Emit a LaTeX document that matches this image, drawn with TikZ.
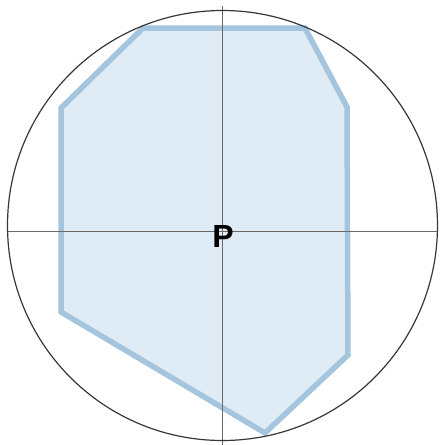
\documentclass[tikz,border=0pt]{standalone}
\usepackage{fontspec}
\setmainfont{Liberation Sans}
\usepackage{xcolor}
\usepackage{tikz}
\usetikzlibrary{positioning, calc}

\definecolor{polyedge}{RGB}{164,197,221}
\definecolor{polyfill}{RGB}{223,235,245}
\definecolor{ringline}{RGB}{55,55,55}
\definecolor{axisline}{RGB}{105,105,105}

\begin{document}
\begin{tikzpicture}[x=1pt, y=-1pt,
        region/.style={draw=polyedge, fill=polyfill, line width=5.5pt, line join=miter},
        ring/.style={draw=ringline, line width=1.2pt},
        axis/.style={draw=axisline, line width=1pt},
        pointlabel/.style={font=\fontsize{32}{32}\selectfont\bfseries, inner sep=0pt}
    ]
    \useasboundingbox (0,0) rectangle (440,445);

    % --- Centre and reference points ---
    \coordinate (centre) at (222.5,225.5);
    \coordinate (axleft) at (7.5,231);
    \coordinate (axright) at (437.5,231);
    \coordinate (axtop) at (222,6);
    \coordinate (axbottom) at (222,445);

    % --- Polygon region ---
    \draw[region] (143,28) -- (305,28) -- (347,107) -- (348,355)
        -- (265,433) -- (61,312) -- (61,108) -- cycle;

    % --- Axes ---
    \draw[axis] (axleft) -- (axright);
    \draw[axis] (axtop) -- (axbottom);

    % --- Circle ---
    \draw[ring] (centre) circle[radius=215];

    % --- Label ---
    \node[pointlabel] (p) at (223,236.5) {P};

\end{tikzpicture}
\end{document}
